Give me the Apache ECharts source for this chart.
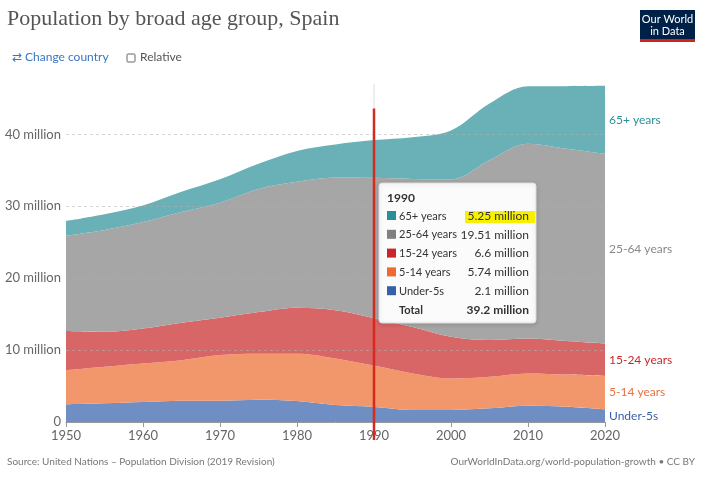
<!DOCTYPE html>
<html><head><meta charset="utf-8">
<script src="https://cdn.jsdelivr.net/npm/echarts@6/dist/echarts.min.js"></script>
<style>html,body{margin:0;padding:0;background:#fff}#c{width:706px;height:480px}</style>
</head><body><div id="c"></div>
<script>
const years = ['1950','1955','1960','1965','1970','1975','1980','1985','1990','1995','2000','2005','2010','2015','2020'];
const under5   = [2.46,2.60,2.78,2.96,2.96,3.10,2.92,2.36,2.10,1.67,1.67,1.90,2.27,2.13,1.76];
const age5_14  = [4.76,5.10,5.37,5.64,6.34,6.40,6.58,6.48,5.74,5.09,4.39,4.40,4.49,4.47,4.67];
const age15_24 = [5.42,4.85,4.85,5.20,5.20,5.80,6.40,6.71,6.60,6.44,5.79,5.10,4.84,4.65,4.47];
const age25_64 = [13.26,14.15,14.80,15.40,16.00,17.10,17.50,18.45,19.51,20.60,21.90,25.00,27.10,26.75,26.40];
const age65    = [2.06,2.20,2.30,2.80,3.25,3.50,4.30,4.60,5.25,5.80,6.80,7.90,8.00,8.70,9.45];
const seriesNames = ['Under-5s','5-14 years','15-24 years','25-64 years','65+ years'];
const seriesData = [under5, age5_14, age15_24, age25_64, age65];
const areaColors = ['#6f8ec3','#f2976b','#d96666','#a6a6a6','#69b1b6'];
const keyColors = ['#3560aa','#ee6a30','#c8262a','#808080','#2a9098'];
const labelColors = ['#3a5fa8','#e8733e','#c8262a','#888888','#2a9098'];
const yTicks = [10,20,30,40];
const highlightYear = '1990';
const tooltipValues = ['5.25 million','19.51 million','6.6 million','5.74 million','2.1 million'];
const tooltipTotal = '39.2 million';
const F = 'Lato, "Noto Sans", sans-serif';

const chart = echarts.init(document.getElementById('c'));
const series = seriesNames.map((n,i)=>({
  name:n, type:'line', stack:'pop', smooth:0.35, symbol:'none', silent:true,
  lineStyle:{width:0}, areaStyle:{color:areaColors[i], opacity:1},
  data: seriesData[i],
  z: 2
}));
series[4].markLine = {
  silent:true, symbol:'none', label:{show:false},
  lineStyle:{color:'#b0b0b0', type:[3,3], width:1, opacity:0.55},
  data: yTicks.map(v=>({yAxis:v}))
};
chart.setOption({
  animation:false,
  grid:{left:66, right:101, top:84, height:338},
  xAxis:{type:'category', data:years, boundaryGap:false,
    axisLine:{lineStyle:{color:'#999'}}, axisTick:{show:true, length:5, interval:1, lineStyle:{color:'#999'}},
    splitLine:{show:false},
    axisLabel:{color:'#666', fontSize:13, fontFamily:F, margin:7, interval:1}},
  yAxis:{type:'value', min:0, max:47, interval:10,
    axisLine:{show:false}, axisTick:{show:false}, splitLine:{show:false},
    axisLabel:{color:'#666', fontSize:13, fontFamily:F, margin:5, showMaxLabel:false,
      formatter:v=> v===0 ? '0' : (v%10===0 ? v+' million' : '')}},
  series
});

const px = (x,y)=>chart.convertToPixel({gridIndex:0},[x,y]);
const g = [];
g.push({type:'text', left:7, top:8, style:{text:'Population by broad age group, Spain', font:'22px "Liberation Serif", "DejaVu Serif", serif', fill:'#555'}});
g.push({type:'text', left:12, top:51, style:{text:'⇄ Change country', font:'12px '+F, fill:'#3a75c4'}});
g.push({type:'rect', shape:{x:127,y:54,width:8,height:8,r:1}, style:{fill:'#fff', stroke:'#666', lineWidth:1}});
g.push({type:'text', left:140, top:51, style:{text:'Relative', font:'12px '+F, fill:'#555'}});
g.push({type:'rect', shape:{x:640,y:10,width:55,height:29}, style:{fill:'#002147'}});
g.push({type:'rect', shape:{x:640,y:39,width:55,height:3}, style:{fill:'#ce261e'}});
g.push({type:'text', x:667.5, y:13, style:{text:'Our World\nin Data', font:'11px '+F, fill:'#fff', align:'center', lineHeight:12}});
g.push({type:'text', left:7, top:457, style:{text:'Source: United Nations – Population Division (2019 Revision)', font:'10px '+F, fill:'#777'}});
g.push({type:'text', right:11, top:457, style:{text:'OurWorldInData.org/world-population-growth • CC BY', font:'10px '+F, fill:'#777'}});
const last = years.length-1;
let cum = 0;
seriesNames.forEach((n,i)=>{
  const v = seriesData[i][last];
  const mid = cum + v/2; cum += v;
  const p = px(years[last], mid);
  g.push({type:'text', x:p[0]+4, y:p[1], style:{text:n, font:'12px '+F, fill:labelColors[i], verticalAlign:'middle'}});
});
const hb = px(highlightYear, 0), ht = px(highlightYear, 47);
g.push({type:'line', shape:{x1:hb[0],y1:ht[1],x2:hb[0],y2:hb[1]}, style:{stroke:'#ddd', lineWidth:1}, z:5});
const rt = px(highlightYear, 43.6);
g.push({type:'line', shape:{x1:hb[0],y1:rt[1],x2:hb[0],y2:hb[1]+18}, style:{stroke:'#d42b21', lineWidth:2.5}, z:6});
const bx = hb[0]+5, by = 183;
g.push({type:'rect', shape:{x:bx,y:by,width:157,height:140,r:3}, style:{fill:'rgba(255,255,255,0.96)', stroke:'#ddd', lineWidth:1, shadowBlur:4, shadowColor:'rgba(0,0,0,0.15)', shadowOffsetY:1}, z:10});
g.push({type:'text', x:bx+8, y:by+15, style:{text:highlightYear, font:'bold 12px '+F, fill:'#333', verticalAlign:'middle'}, z:11});
g.push({type:'rect', shape:{x:bx+86,y:by+28,width:70,height:12}, style:{fill:'#f7f000'}, z:11});
for (let k=0;k<5;k++){
  const si = 4-k;
  const ry = by+33+k*18.8;
  g.push({type:'rect', shape:{x:bx+8,y:ry-5,width:9,height:9}, style:{fill:keyColors[si]}, z:11});
  g.push({type:'text', x:bx+20, y:ry, style:{text:seriesNames[si], font:'11px '+F, fill:'#333', verticalAlign:'middle'}, z:11});
  g.push({type:'text', x:bx+150, y:ry, style:{text:tooltipValues[k], font:'12px '+F, fill:'#333', align:'right', verticalAlign:'middle'}, z:11});
}
const ty = by+33+5*18.8;
g.push({type:'text', x:bx+20, y:ty, style:{text:'Total', font:'bold 11px '+F, fill:'#333', verticalAlign:'middle'}, z:11});
g.push({type:'text', x:bx+150, y:ty, style:{text:tooltipTotal, font:'bold 12px '+F, fill:'#333', align:'right', verticalAlign:'middle'}, z:11});
chart.setOption({graphic:g});
</script></body></html>
